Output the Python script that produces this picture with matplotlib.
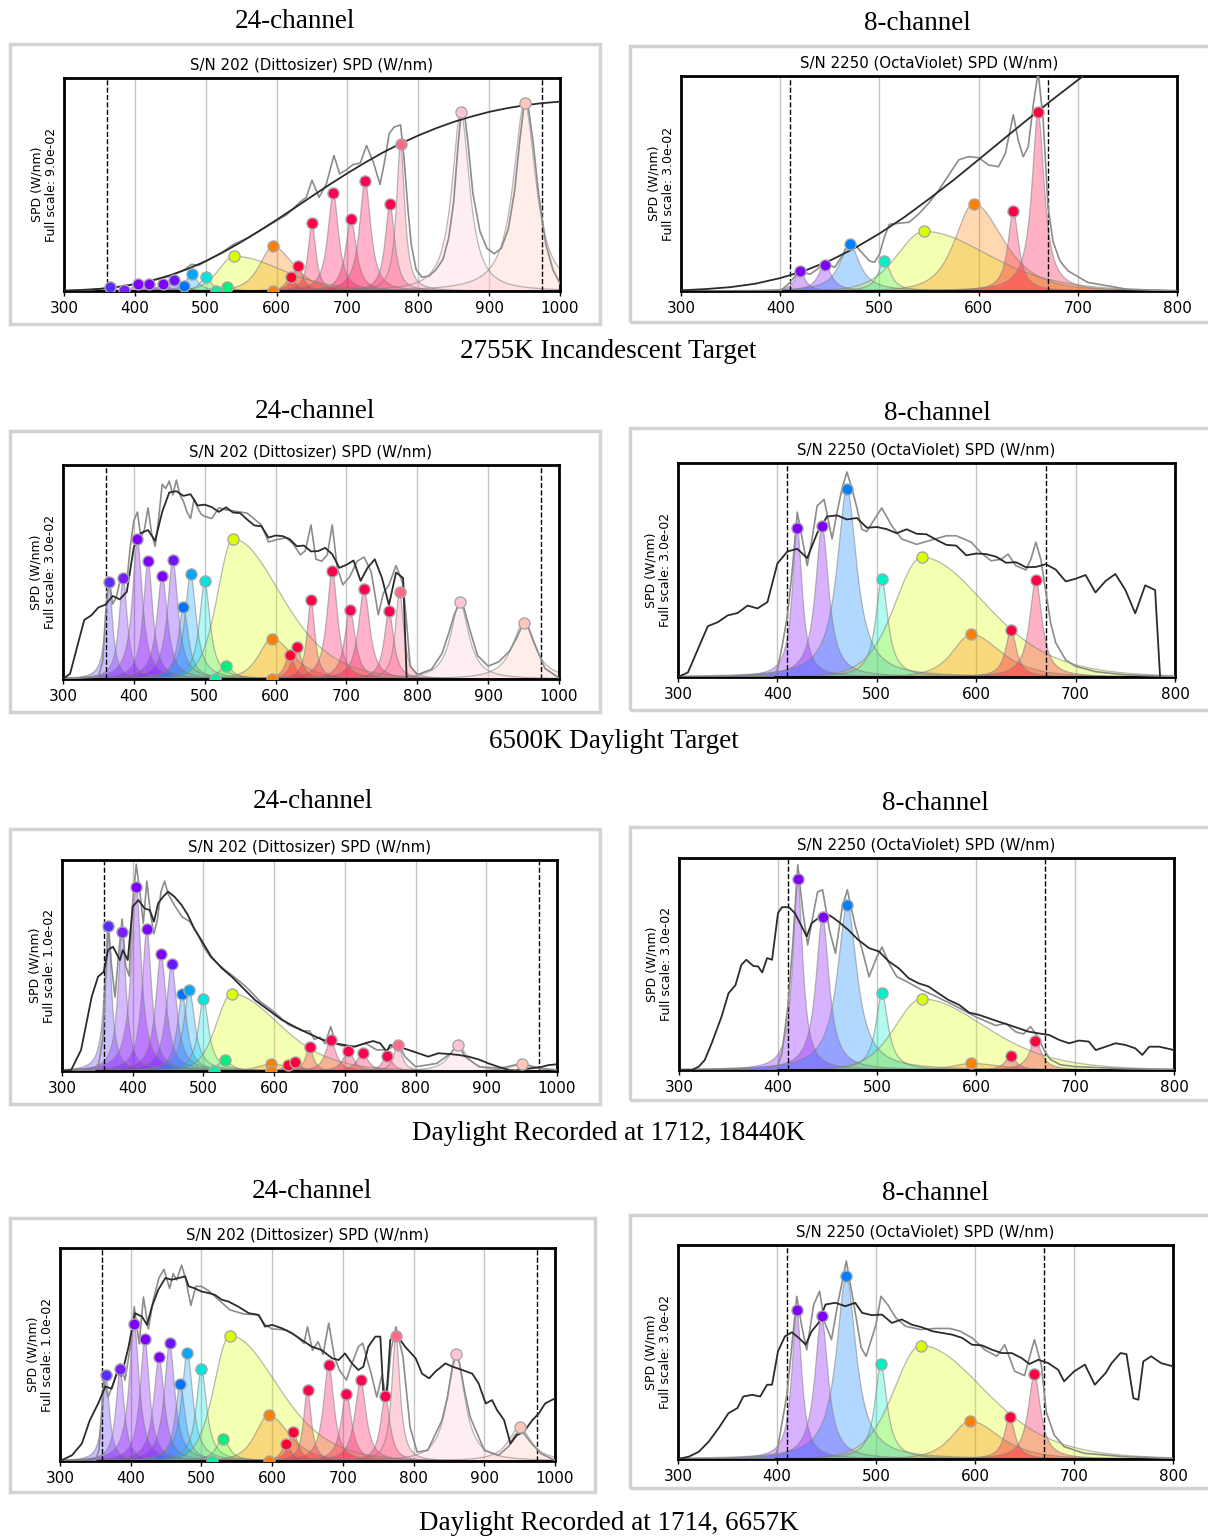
import numpy as np
import matplotlib
matplotlib.use("Agg")
import matplotlib.pyplot as plt
from matplotlib.patches import Rectangle

W, H = 1208, 1538

# ---------------- LED channel definitions ----------------
# Dittosizer (24 channels): peak nm, half widths (left/right), profile exponent, colour
ditto_peaks = [365, 385, 405, 420, 440, 455, 470, 480, 500, 515, 530, 540,
               595, 595, 620, 630, 650, 680, 705, 725, 760, 775, 860, 950]
ditto_hw_left = [6, 7, 8.5, 8, 9, 9, 8.5, 9.5, 9, 11, 11, 26,
                 22, 22, 8, 8, 6.5, 9, 9, 9.5, 8, 7, 15, 19]
ditto_hw_right = [6, 7, 8.5, 8, 9, 9, 8.5, 9.5, 9, 11, 11, 80,
                  34, 34, 8, 8, 6.5, 9, 9, 9.5, 8, 7, 15, 19]
ditto_power = [1.0] * 11 + [4, 2, 2] + [1.1] * 10
ditto_colors = ['#5a2dff', '#7a1cff', '#8000ff', '#8000ff', '#7f00ff', '#6a14ff',
                '#0073ff', '#00a6ff', '#00e6dc', '#00f0a0', '#00f07a', '#dcff00',
                '#ff8000', '#ff8000', '#ff0030', '#ff0038', '#ff0048', '#ff0050',
                '#ff0050', '#ff0050', '#ff0050', '#ff6a88', '#ffc4dc', '#ffc6bc']

# OctaViolet (8 channels)
octa_peaks = [420, 445, 470, 505, 545, 595, 635, 660]
octa_hw_left = [6, 8, 12, 7.5, 32, 22, 6.5, 7.5]
octa_hw_right = [6, 8, 12, 7.5, 77, 35, 6.5, 7.5]
octa_power = [1.0, 1.0, 1.0, 1.0, 4, 2, 1.0, 1.0]
octa_colors = ['#8000ff', '#8000ff', '#0080ff', '#00f0c8',
               '#dcff00', '#ff8000', '#ff0040', '#ff0040']

# ---------------- channel drive levels (fraction of full scale) ----------------
ditto_incandescent = [0.019, 0.004, 0.034, 0.034, 0.034, 0.053, 0.022, 0.081, 0.066, 0, 0.019, 0.163,
                      0.209, 0, 0.066, 0.119, 0.320, 0.461, 0.338, 0.516, 0.409, 0.691, 0.839, 0.884]
ditto_d65 = [0.453, 0.470, 0.652, 0.550, 0.483, 0.558, 0.335, 0.492, 0.458, 0, 0.063, 0.654,
             0.189, 0, 0.113, 0.151, 0.371, 0.505, 0.321, 0.420, 0.319, 0.406, 0.358, 0.264]
ditto_1712 = [0.689, 0.660, 0.874, 0.673, 0.555, 0.506, 0.363, 0.384, 0.340, 0, 0.052, 0.365,
              0.032, 0, 0.028, 0.044, 0.112, 0.145, 0.095, 0.084, 0.073, 0.123, 0.122, 0.032]
ditto_1714 = [0.403, 0.430, 0.644, 0.571, 0.487, 0.553, 0.361, 0.509, 0.432, 0, 0.105, 0.589,
              0.215, 0, 0.078, 0.135, 0.333, 0.449, 0.314, 0.378, 0.303, 0.589, 0.501, 0.160]

octa_incandescent = [0.094, 0.123, 0.219, 0.141, 0.277, 0.406, 0.372, 0.831]
octa_d65 = [0.696, 0.707, 0.880, 0.457, 0.559, 0.199, 0.221, 0.455]
octa_1712 = [0.900, 0.721, 0.780, 0.362, 0.335, 0.031, 0.068, 0.137]
octa_1714 = [0.695, 0.667, 0.855, 0.442, 0.530, 0.177, 0.195, 0.397]

# ---------------- target spectra ----------------
bb_wl_ditto = list(range(300, 1001, 25))
bb_ditto = [0.002, 0.005, 0.010, 0.019, 0.032, 0.050, 0.074, 0.104, 0.140, 0.183, 0.230, 0.281,
            0.334, 0.389, 0.445, 0.500, 0.553, 0.603, 0.650, 0.692, 0.730, 0.764, 0.794, 0.819,
            0.841, 0.858, 0.872, 0.882, 0.889]
bb_wl_octa = list(range(300, 801, 25))
bb_octa = [0.003, 0.009, 0.018, 0.034, 0.060, 0.095, 0.141, 0.199, 0.267, 0.343, 0.428, 0.517,
           0.611, 0.706, 0.800, 0.892, 0.981, 1.066, 1.143, 1.21, 1.27]

d65_wl = list(range(300, 781, 10)) + [785]
d65 = [0.03, 3.29, 20.24, 37.05, 39.95, 44.91, 46.64, 52.09, 49.98, 54.65, 82.75, 91.49,
       93.43, 86.68, 104.87, 117.01, 117.81, 114.86, 115.92, 108.81, 109.35, 107.80, 104.79,
       107.69, 104.41, 104.05, 100.00, 96.33, 95.79, 88.69, 90.01, 89.60, 87.70, 83.29, 83.70,
       80.03, 80.21, 82.28, 78.28, 69.72, 71.61, 74.35, 61.60, 69.89, 75.09, 63.59, 46.42,
       66.81, 63.38, 0.0]
d65_scale_ditto = 0.00745
d65_scale_octa = 0.00641

sky1712_wl_ditto = [300, 313, 327, 342, 351, 359, 365, 372, 382, 386, 393, 400, 408, 417, 424,
                    430, 436, 443, 450, 459, 469, 478, 488, 497, 511, 526, 540, 554, 573, 592,
                    611, 629, 648, 667, 686, 700, 714, 728, 740, 750, 759, 764, 776, 790, 804,
                    818, 832, 846, 861, 875, 889, 903, 917, 932, 941, 950, 964, 979, 988, 1000]
sky1712_ditto = [0, 0.005, 0.10, 0.352, 0.447, 0.47, 0.573, 0.589, 0.526, 0.573, 0.526, 0.779,
                 0.81, 0.77, 0.763, 0.708, 0.795, 0.826, 0.85, 0.826, 0.787, 0.739, 0.668, 0.621,
                 0.542, 0.487, 0.447, 0.40, 0.336, 0.289, 0.242, 0.21, 0.179, 0.15, 0.131, 0.123,
                 0.115, 0.131, 0.142, 0.131, 0.092, 0.123, 0.115, 0.10, 0.084, 0.068, 0.084,
                 0.081, 0.076, 0.068, 0.055, 0.036, 0.02, 0.005, 0.002, 0.008, 0.013, 0.02,
                 0.028, 0.032]
sky1712_wl_octa = [300, 313, 320, 326, 333, 343, 350, 357, 363, 368, 375, 380, 384, 389, 394,
                   400, 404, 411, 417, 424, 429, 434, 441, 448, 454, 461, 471, 481, 492, 502,
                   512, 522, 532, 542, 552, 562, 572, 583, 593, 603, 613, 623, 633, 643, 653,
                   663, 674, 684, 694, 704, 714, 721, 731, 741, 751, 761, 768, 775, 785, 800]
sky1712_octa = [0, 0, 0.016, 0.047, 0.126, 0.252, 0.362, 0.40, 0.496, 0.52, 0.491, 0.488, 0.46,
                0.528, 0.52, 0.74, 0.768, 0.768, 0.74, 0.677, 0.63, 0.693, 0.717, 0.74, 0.724,
                0.70, 0.661, 0.614, 0.575, 0.559, 0.512, 0.48, 0.433, 0.409, 0.394, 0.362,
                0.331, 0.307, 0.271, 0.26, 0.244, 0.228, 0.213, 0.197, 0.181, 0.173, 0.165,
                0.142, 0.126, 0.139, 0.134, 0.094, 0.11, 0.126, 0.118, 0.102, 0.071, 0.11,
                0.11, 0.094]

sky1714_wl_ditto = [300, 317, 331, 342, 354, 364, 373, 380, 387, 397, 406, 416, 423, 430, 439,
                    449, 458, 468, 477, 482, 491, 500, 511, 519, 529, 538, 552, 567, 581, 590,
                    600, 614, 628, 642, 656, 670, 685, 694, 703, 713, 722, 729, 736, 746, 753,
                    757, 762, 767, 776, 788, 803, 812, 822, 831, 845, 855, 869, 883, 892, 902,
                    911, 918, 928, 937, 946, 956, 968, 977, 986, 1000]
sky1714_ditto = [0, 0.027, 0.082, 0.19, 0.27, 0.35, 0.34, 0.41, 0.40, 0.537, 0.694, 0.678, 0.639,
                 0.725, 0.804, 0.859, 0.851, 0.859, 0.867, 0.82, 0.81, 0.796, 0.788, 0.78, 0.757,
                 0.749, 0.725, 0.694, 0.686, 0.631, 0.639, 0.623, 0.60, 0.568, 0.537, 0.521,
                 0.482, 0.474, 0.505, 0.458, 0.427, 0.443, 0.537, 0.584, 0.584, 0.333, 0.317,
                 0.568, 0.592, 0.537, 0.482, 0.41, 0.388, 0.42, 0.458, 0.443, 0.427, 0.41, 0.364,
                 0.27, 0.286, 0.239, 0.192, 0.082, 0.121, 0.137, 0.192, 0.223, 0.27, 0.294]
sky1714_wl_octa = [300, 311, 321, 331, 341, 351, 360, 366, 375, 383, 390, 395, 401, 408, 415,
                   422, 429, 435, 442, 449, 459, 469, 479, 486, 496, 506, 516, 526, 536, 546,
                   557, 567, 577, 587, 597, 607, 617, 627, 637, 647, 655, 664, 674, 684, 690,
                   700, 711, 721, 732, 738, 747, 753, 760, 765, 770, 778, 788, 800]
sky1714_octa = [0, 0.011, 0.034, 0.081, 0.144, 0.214, 0.238, 0.292, 0.30, 0.292, 0.347, 0.347,
                0.503, 0.573, 0.592, 0.566, 0.534, 0.597, 0.636, 0.722, 0.73, 0.714, 0.73, 0.683,
                0.672, 0.675, 0.636, 0.652, 0.628, 0.616, 0.597, 0.589, 0.581, 0.566, 0.534,
                0.531, 0.511, 0.495, 0.495, 0.472, 0.444, 0.464, 0.448, 0.417, 0.363, 0.409,
                0.441, 0.347, 0.402, 0.448, 0.495, 0.49, 0.284, 0.277, 0.456, 0.48, 0.448, 0.433]

# ---------------- measured output spectra (grey trace) ----------------
meas_wl_ditto_incand = [300, 340, 380, 420, 450, 470, 480, 490, 500, 520, 540, 560, 580, 600, 615,
                        633, 642, 650, 660, 670, 681, 689, 699, 708, 718, 727, 737, 746, 752, 759,
                        766, 775, 780, 785, 790, 797, 805, 815, 825, 835, 843, 850, 856, 861, 865,
                        870, 877, 887, 897, 907, 917, 927, 936, 943, 950, 955, 962, 970, 980, 990,
                        1000]
meas_ditto_incand = [0.0, 0.006, 0.02, 0.045, 0.07, 0.1, 0.125, 0.12, 0.14, 0.175, 0.22, 0.25,
                     0.29, 0.33, 0.36, 0.417, 0.44, 0.52, 0.44, 0.50, 0.636, 0.55, 0.57, 0.594,
                     0.60, 0.683, 0.60, 0.50, 0.60, 0.74, 0.77, 0.78, 0.62, 0.40, 0.22, 0.10,
                     0.065, 0.07, 0.10, 0.15, 0.25, 0.42, 0.68, 0.855, 0.84, 0.70, 0.46, 0.28,
                     0.20, 0.175, 0.20, 0.29, 0.47, 0.70, 0.894, 0.87, 0.70, 0.45, 0.22, 0.10,
                     0.035]
meas_wl_octa_incand = [300, 400, 410, 415, 420, 425, 430, 437, 445, 450, 455, 462, 470, 475, 480,
                       490, 495, 500, 505, 510, 520, 530, 540, 550, 560, 570, 580, 590, 600, 610,
                       620, 627, 635, 640, 645, 650, 655, 660, 665, 670, 675, 682, 690, 710, 750,
                       800]
meas_octa_incand = [0, 0.0, 0.04, 0.07, 0.094, 0.085, 0.078, 0.10, 0.133, 0.12, 0.11, 0.16, 0.234,
                    0.22, 0.19, 0.14, 0.133, 0.17, 0.25, 0.31, 0.315, 0.32, 0.36, 0.41, 0.47, 0.54,
                    0.61, 0.625, 0.62, 0.586, 0.578, 0.64, 0.82, 0.70, 0.625, 0.67, 0.86, 1.02,
                    0.80, 0.39, 0.23, 0.14, 0.094, 0.04, 0.008, 0.0]

meas_wl_ditto_d65 = [300, 350, 356, 360, 365, 370, 375, 380, 385, 390, 395, 400, 405, 410, 415,
                     420, 425, 430, 435, 440, 445, 450, 455, 460, 465, 470, 475, 480, 485, 490,
                     495, 500, 510, 520, 530, 540, 560, 580, 590, 600, 615, 625, 635, 642, 650,
                     657, 665, 673, 680, 687, 695, 705, 715, 725, 735, 745, 752, 760, 770, 776,
                     780, 784, 790, 800, 820, 835, 845, 852, 860, 866, 875, 885, 900, 915, 930,
                     940, 950, 957, 965, 980, 1000]
meas_ditto_d65 = [0, 0.01, 0.08, 0.3, 0.47, 0.35, 0.38, 0.45, 0.49, 0.45, 0.62, 0.74, 0.78, 0.66,
                  0.7, 0.80, 0.68, 0.62, 0.75, 0.91, 0.89, 0.925, 0.86, 0.93, 0.86, 0.83, 0.78,
                  0.75, 0.84, 0.80, 0.77, 0.76, 0.75, 0.80, 0.79, 0.786, 0.775, 0.72, 0.64, 0.65,
                  0.66, 0.63, 0.58, 0.60, 0.72, 0.56, 0.55, 0.58, 0.72, 0.52, 0.44, 0.48, 0.55,
                  0.57, 0.50, 0.30, 0.40, 0.44, 0.53, 0.48, 0.44, 0.30, 0.06, 0.02, 0.045, 0.12,
                  0.22, 0.30, 0.358, 0.33, 0.22, 0.11, 0.06, 0.08, 0.13, 0.19, 0.264, 0.24, 0.17,
                  0.05, 0.005]
meas_wl_octa_d65 = [300, 395, 400, 405, 410, 415, 420, 425, 430, 435, 440, 447, 455, 460, 465,
                    470, 475, 480, 485, 490, 498, 505, 515, 525, 540, 555, 570, 580, 595, 605,
                    615, 625, 632, 640, 650, 655, 660, 665, 670, 675, 680, 690, 700, 720, 750,
                    800]
meas_octa_d65 = [0, 0.0, 0.034, 0.15, 0.285, 0.5, 0.77, 0.645, 0.52, 0.65, 0.80, 0.83, 0.645,
                 0.77, 0.88, 0.958, 0.88, 0.79, 0.69, 0.68, 0.74, 0.79, 0.707, 0.645, 0.62, 0.64,
                 0.66, 0.66, 0.63, 0.58, 0.543, 0.55, 0.574, 0.52, 0.50, 0.55, 0.63, 0.55, 0.40,
                 0.25, 0.16, 0.08, 0.05, 0.025, 0.01, 0.002]

meas_wl_ditto_1712 = [300, 345, 352, 358, 362, 366, 370, 375, 380, 385, 390, 395, 400, 405, 410,
                      415, 420, 425, 430, 435, 440, 445, 450, 460, 470, 480, 490, 500, 510, 520,
                      530, 540, 560, 580, 600, 620, 640, 650, 657, 665, 672, 680, 687, 695, 710,
                      730, 745, 760, 775, 785, 800, 830, 850, 860, 870, 890, 920, 950, 975, 1000]
meas_ditto_1712 = [0, 0.0, 0.036, 0.16, 0.45, 0.68, 0.5, 0.35, 0.55, 0.72, 0.50, 0.45, 0.80,
                   0.98, 0.85, 0.70, 0.90, 0.75, 0.65, 0.72, 0.85, 0.90, 0.84, 0.78, 0.73, 0.71,
                   0.66, 0.59, 0.54, 0.51, 0.48, 0.455, 0.40, 0.33, 0.28, 0.22, 0.19, 0.19, 0.15,
                   0.16, 0.13, 0.21, 0.13, 0.12, 0.115, 0.13, 0.10, 0.10, 0.13, 0.068, 0.02,
                   0.036, 0.084, 0.13, 0.068, 0.02, 0.013, 0.036, 0.013, 0.005]
meas_wl_octa_1712 = [300, 398, 404, 410, 415, 420, 425, 430, 435, 440, 445, 452, 458, 465, 470,
                     478, 485, 492, 500, 505, 512, 520, 530, 545, 560, 580, 600, 620, 630, 640,
                     648, 655, 662, 668, 675, 685, 700, 750, 800]
meas_octa_1712 = [0, 0.0, 0.08, 0.3, 0.6, 0.968, 0.75, 0.59, 0.72, 0.84, 0.85, 0.66, 0.55, 0.77,
                  0.85, 0.68, 0.567, 0.44, 0.535, 0.58, 0.504, 0.44, 0.417, 0.378, 0.346, 0.30,
                  0.25, 0.21, 0.22, 0.18, 0.17, 0.205, 0.16, 0.10, 0.05, 0.025, 0.016, 0.006,
                  0.003]

meas_wl_ditto_1714 = [300, 350, 355, 362, 368, 375, 385, 392, 400, 405, 412, 418, 425, 432, 440,
                      447, 455, 460, 465, 472, 478, 485, 492, 500, 510, 520, 540, 560, 580, 590,
                      600, 620, 635, 645, 650, 657, 665, 672, 680, 688, 695, 705, 712, 722, 728,
                      740, 748, 755, 762, 768, 775, 785, 795, 805, 820, 840, 848, 855, 860, 865,
                      872, 880, 900, 920, 935, 943, 950, 957, 965, 980, 1000]
meas_ditto_1714 = [0, 0.0, 0.05, 0.38, 0.30, 0.36, 0.458, 0.38, 0.55, 0.725, 0.55, 0.77, 0.62,
                   0.757, 0.86, 0.90, 0.81, 0.88, 0.85, 0.92, 0.85, 0.73, 0.82, 0.82, 0.80, 0.77,
                   0.71, 0.69, 0.686, 0.64, 0.62, 0.615, 0.584, 0.553, 0.63, 0.52, 0.56, 0.50,
                   0.647, 0.49, 0.427, 0.38, 0.45, 0.537, 0.553, 0.41, 0.30, 0.40, 0.30, 0.52,
                   0.63, 0.49, 0.16, 0.042, 0.05, 0.19, 0.30, 0.44, 0.50, 0.46, 0.33, 0.207,
                   0.05, 0.027, 0.07, 0.12, 0.144, 0.125, 0.09, 0.035, 0.003]
meas_wl_octa_1714 = [300, 396, 400, 410, 415, 420, 425, 430, 437, 443, 448, 455, 462, 470, 477,
                     485, 490, 500, 505, 512, 520, 530, 545, 560, 575, 585, 597, 610, 622, 630,
                     640, 650, 660, 667, 672, 680, 690, 710, 750, 800]
meas_octa_1714 = [0, 0.0, 0.034, 0.30, 0.53, 0.76, 0.62, 0.51, 0.72, 0.784, 0.64, 0.558, 0.74,
                  0.925, 0.74, 0.52, 0.48, 0.628, 0.76, 0.72, 0.66, 0.62, 0.605, 0.61, 0.61,
                  0.597, 0.566, 0.51, 0.48, 0.534, 0.41, 0.39, 0.558, 0.44, 0.22, 0.112, 0.058,
                  0.027, 0.011, 0.003]

row_captions = ["2755K Incandescent Target", "6500K Daylight Target",
                "Daylight Recorded at 1712, 18440K", "Daylight Recorded at 1714, 6657K"]
ditto_full_scale = ["9.0e-02", "3.0e-02", "1.0e-02", "1.0e-02"]
octa_full_scale = ["3.0e-02", "3.0e-02", "3.0e-02", "3.0e-02"]


def channel_profile(wl, peak, hw_l, hw_r, power):
    hw = np.where(wl < peak, hw_l, hw_r)
    w = hw / np.sqrt(2 ** (1 / power) - 1)
    return (1 + ((wl - peak) / w) ** 2) ** (-power)


def draw_panel(ax, title, xmax, peaks, hwl, hwr, pw, colors, levels,
               target, measured, full_scale, cutoffs):
    wl = np.arange(300, xmax + 0.5, 0.5)
    for pk, a, b, p, c, lv in zip(peaks, hwl, hwr, pw, colors, levels):
        spd = lv * channel_profile(wl, pk, a, b, p)
        ax.fill_between(wl, 0, spd, facecolor=c, alpha=0.3, lw=0, zorder=1)
        ax.plot(wl, spd, color='#808080', alpha=0.55, lw=0.9, zorder=1.5)
    for x in cutoffs:
        ax.axvline(x, color='k', ls='--', lw=1, zorder=2)
    ax.plot(*measured, color='#8c8c8c', lw=1.2, zorder=3)
    ax.plot(*target, color='#2b2b2b', lw=1.3, zorder=4)
    for pk, c, lv in zip(peaks, colors, levels):
        ax.plot(pk, lv, 'o', ms=8, mfc=c, mec='#a8a8a8', mew=1, zorder=5)

    ax.set_xlim(300, xmax)
    ax.set_ylim(0, 1)
    ax.set_xticks(range(300, xmax + 1, 100))
    ax.set_yticks([])
    ax.grid(axis='x', color='#c4c4c4', lw=1)
    ax.set_axisbelow(True)
    for s in ax.spines.values():
        s.set_linewidth(2)
    ax.tick_params(axis='x', labelsize=11, length=3.5, width=1)
    ax.set_title(title, fontsize=10.8, pad=6)
    ax.set_ylabel("SPD (W/nm)\nFull scale: " + full_scale, fontsize=9, labelpad=4)


fig = plt.figure(figsize=(W / 100, H / 100), dpi=100)


def add_px_axes(x0, y0, x1, y1):
    return fig.add_axes([x0 / W, 1 - y1 / H, (x1 - x0) / W, (y1 - y0) / H])


def add_frame(x0, y0, x1, y1):
    fig.add_artist(Rectangle((x0 / W, 1 - y1 / H), (x1 - x0) / W, (y1 - y0) / H,
                             transform=fig.transFigure, fill=False,
                             edgecolor='#d2d2d2', lw=2.5))


def add_text(x, y, s):
    fig.text(x / W, 1 - y / H, s, ha='center', va='center',
             family='Liberation Serif', fontsize=19.5)


# pixel layout of each row: frames, axes, headers, caption
left_frames = [(10, 44, 600, 324), (10, 431, 600, 712), (10, 829, 600, 1104), (10, 1218, 595, 1492)]
right_frames = [(630, 46, 1212, 322), (630, 428, 1212, 710), (630, 827, 1212, 1100), (630, 1215, 1212, 1488)]
left_axes = [(64, 78, 560, 291), (63, 465, 559, 679), (62, 860, 557, 1071), (60, 1248, 555, 1461)]
right_axes = [(681, 76, 1177, 291), (678, 463, 1175, 677), (679, 858, 1174, 1070), (678, 1245, 1173, 1459)]
left_headers = [(295, 22), (315, 411), (313, 802), (312, 1192)]
right_headers = [(917, 24), (937, 413), (935, 804), (935, 1194)]
caption_pos = [(608, 352), (614, 742), (609, 1133), (609, 1523)]

ditto_rows = [ditto_incandescent, ditto_d65, ditto_1712, ditto_1714]
octa_rows = [octa_incandescent, octa_d65, octa_1712, octa_1714]
ditto_targets = [(bb_wl_ditto, bb_ditto),
                 (d65_wl, [v * d65_scale_ditto for v in d65]),
                 (sky1712_wl_ditto, sky1712_ditto),
                 (sky1714_wl_ditto, sky1714_ditto)]
octa_targets = [(bb_wl_octa, bb_octa),
                (d65_wl, [v * d65_scale_octa for v in d65]),
                (sky1712_wl_octa, sky1712_octa),
                (sky1714_wl_octa, sky1714_octa)]
ditto_measured = [(meas_wl_ditto_incand, meas_ditto_incand),
                  (meas_wl_ditto_d65, meas_ditto_d65),
                  (meas_wl_ditto_1712, meas_ditto_1712),
                  (meas_wl_ditto_1714, meas_ditto_1714)]
octa_measured = [(meas_wl_octa_incand, meas_octa_incand),
                 (meas_wl_octa_d65, meas_octa_d65),
                 (meas_wl_octa_1712, meas_octa_1712),
                 (meas_wl_octa_1714, meas_octa_1714)]

for i in range(4):
    add_frame(*left_frames[i])
    add_frame(*right_frames[i])

    ax = add_px_axes(*left_axes[i])
    draw_panel(ax, "S/N 202 (Dittosizer) SPD (W/nm)", 1000,
               ditto_peaks, ditto_hw_left, ditto_hw_right, ditto_power, ditto_colors,
               ditto_rows[i], ditto_targets[i], ditto_measured[i],
               ditto_full_scale[i], (360, 975))

    ax = add_px_axes(*right_axes[i])
    draw_panel(ax, "S/N 2250 (OctaViolet) SPD (W/nm)", 800,
               octa_peaks, octa_hw_left, octa_hw_right, octa_power, octa_colors,
               octa_rows[i], octa_targets[i], octa_measured[i],
               octa_full_scale[i], (410, 670))

    add_text(*left_headers[i], "24-channel")
    add_text(*right_headers[i], "8-channel")
    add_text(*caption_pos[i], row_captions[i])

fig.savefig("out.png", dpi=100)
